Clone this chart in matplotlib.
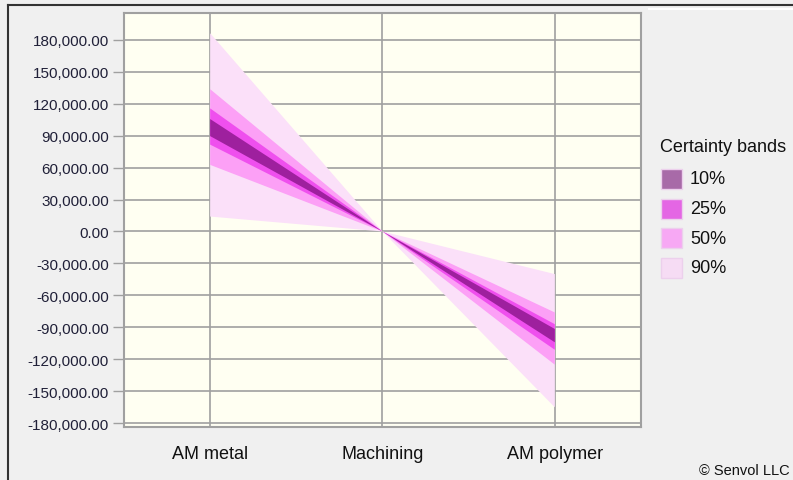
import matplotlib
matplotlib.use("Agg")
import matplotlib.pyplot as plt
from matplotlib.patches import Rectangle
from matplotlib.lines import Line2D
from matplotlib.ticker import FuncFormatter

plt.rcParams['font.family'] = ['Liberation Sans', 'DejaVu Sans']

categories = ['AM metal', 'Machining', 'AM polymer']
band90_low = [14000, 0, -165000]
band90_high = [186000, 0, -40000]
band50_low = [62500, 0, -125000]
band50_high = [133500, 0, -76000]
band25_low = [81500, 0, -111000]
band25_high = [115500, 0, -87000]
band10_low = [89500, 0, -104000]
band10_high = [105500, 0, -91500]
band_labels = ['10%', '25%', '50%', '90%']
y_ticks = list(range(-180000, 180001, 30000))

W, H = 793, 481
fig = plt.figure(figsize=(W/100, H/100), dpi=100)
fig.patch.set_facecolor('#f0f0f0')
ax = fig.add_axes([124/W, 1-427.5/H, (641-124)/W, (427.5-14)/H])
ax.set_facecolor('#fffff2')

x = list(range(len(categories)))
fills = [
    (band90_low, band90_high, '#fbe0f9'),
    (band50_low, band50_high, '#fca0f6'),
    (band25_low, band25_high, '#ef4fee'),
    (band10_low, band10_high, '#9e209e'),
]
for lo, hi, c in fills:
    ax.fill_between(x, lo, hi, facecolor=c, edgecolor='none', zorder=3)

ax.set_xlim(-0.5, 2.5)
ax.set_ylim(-183000, 205000)
ax.set_xticks(x)
ax.set_xticklabels(categories, fontsize=13)
ax.set_yticks(y_ticks)
ax.yaxis.set_major_formatter(FuncFormatter(lambda v, p: f"{v:,.2f}"))
ax.tick_params(axis='y', length=8, width=1, color='#a0a0a0', labelsize=11,
               labelcolor='#202038', pad=3)
ax.tick_params(axis='x', length=0, pad=13, labelcolor='#111111')
ax.grid(True, color='#a0a0a0', linewidth=1.2, zorder=1)
ax.set_axisbelow(True)
for s in ax.spines.values():
    s.set_color('#a0a0a0')
    s.set_linewidth(1.5)

# legend drawn manually in figure pixel space
legend_colors = ['#a86aa8', '#e466e4', '#f7a8f4', '#f6dcf4']
legend_rows = [180, 210, 239, 269]
fig.text(660/W, 1-148/H, 'Certainty bands', ha='left', va='center', fontsize=13,
         color='#111111')
for c, yc, lab in zip(legend_colors, legend_rows, band_labels):
    fig.add_artist(Rectangle((661/W, 1-(yc+10)/H), 21/W, 20/H,
                             transform=fig.transFigure, facecolor=c,
                             edgecolor='#ecd0ec', linewidth=1.0))
    fig.text(690/W, 1-yc/H, lab, ha='left', va='center', fontsize=13,
             color='#111111')

fig.text(790/W, 1-471/H, '© Senvol LLC', ha='right', va='center', fontsize=10.5,
         color='#111111')

fig.add_artist(Line2D([8/W, 8/W], [0, 1-6/H], transform=fig.transFigure,
                      color='#333333', linewidth=1.5))
fig.add_artist(Line2D([8/W, 1], [1-6/H, 1-6/H], transform=fig.transFigure,
                      color='#333333', linewidth=1.5))
fig.add_artist(Line2D([649/W, 1], [1-10/H, 1-10/H], transform=fig.transFigure,
                      color='#ffffff', linewidth=1.5))

fig.savefig('out.png', dpi=100, facecolor=fig.get_facecolor())
